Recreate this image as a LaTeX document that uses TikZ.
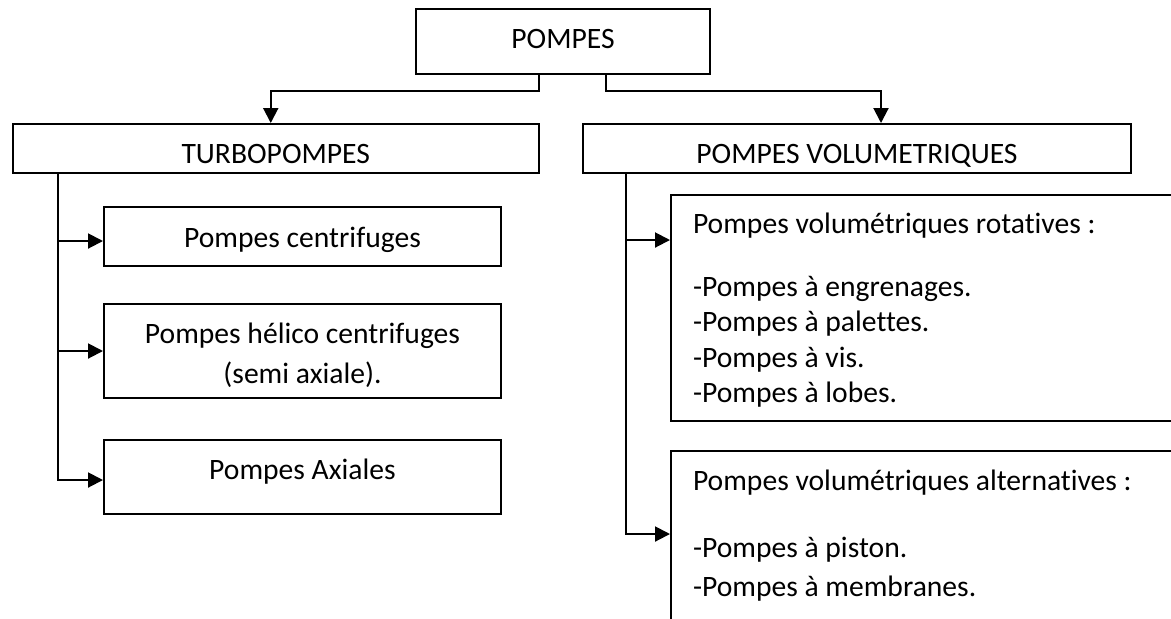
\documentclass[tikz,border=0pt]{standalone}
\usepackage{fontspec}
\setmainfont{Carlito}[Ligatures=NoCommon]
\usetikzlibrary{arrows.meta}
\begin{document}
\begin{tikzpicture}[x=0.5pt,y=-0.5pt,
		box/.style={draw, line width=1pt, anchor=north west, inner xsep=0pt, inner ysep=0pt, font=\fontsize{14.8pt}{17.75pt}\selectfont},
		listbox/.style={box, inner xsep=11pt, text width=235.5pt, align=flush left},
		arr/.style={line width=1pt, -{Triangle[length=7.5pt,width=7.5pt]}}]
		\useasboundingbox (0,0) rectangle (1171,618);
		\clip (0,0) rectangle (1171,618);
		% top level
		\node[box, minimum width=147pt, text height=19.5pt, text depth=13pt] (pompes) at (415,8) {POMPES};
		\node[box, minimum width=263.25pt, text height=19.5pt, text depth=5pt] (turbo) at (11.5,123) {TURBOPOMPES};
		\node[box, minimum width=274pt, text height=19.5pt, text depth=5pt] (volum) at (582,123) {POMPES VOLUMETRIQUES};
		% turbopompes
		\node[box, minimum width=198.5pt, text height=20pt, text depth=9.5pt] (centri) at (103,206) {Pompes centrifuges};
		\node[box, text width=198.5pt, text height=19.5pt, text depth=27.5pt, align=flush center] (helico) at (103,303) {Pompes hélico centrifuges\\[2.25pt](semi axiale).};
		\node[box, minimum width=198.5pt, text height=19.5pt, text depth=17.5pt] (axial) at (103,439) {Pompes Axiales};
		% pompes volumetriques
		\node[listbox, text height=19pt, text depth=94pt] (rot) at (670,194) {Pompes volumétriques rotatives :\\[13.75pt]-Pompes à engrenages.\\-Pompes à palettes.\\-Pompes à vis.\\-Pompes à lobes.};
		\node[listbox, text height=19.5pt, text depth=75.5pt] (alt) at (670,450) {Pompes volumétriques alternatives :\\[15.75pt]-Pompes à piston.\\[1.75pt]-Pompes à membranes.};
		% connectors
		\draw[arr] ([xshift=-12pt]pompes.south) -- ++(0,16) -| ([xshift=-2.5pt]turbo.north);
		\draw[arr] ([xshift=21.25pt]pompes.south) -- ++(0,16) -| ([xshift=12pt]volum.north);
		\coordinate (tk1) at ([xshift=23.25pt]turbo.south west);
		\draw[arr] (tk1) |- ([yshift=-2.25pt]centri.west);
		\draw[arr] (tk1) |- (helico.west);
		\draw[arr] (tk1) |- ([yshift=-1.5pt]axial.west);
		\coordinate (tk2) at ([xshift=22pt]volum.south west);
		\draw[arr] (tk2) |- ([yshift=-23pt]rot.north west);
		\draw[arr] (tk2) |- ([yshift=-42pt]alt.north west);
	\end{tikzpicture}
\end{document}
